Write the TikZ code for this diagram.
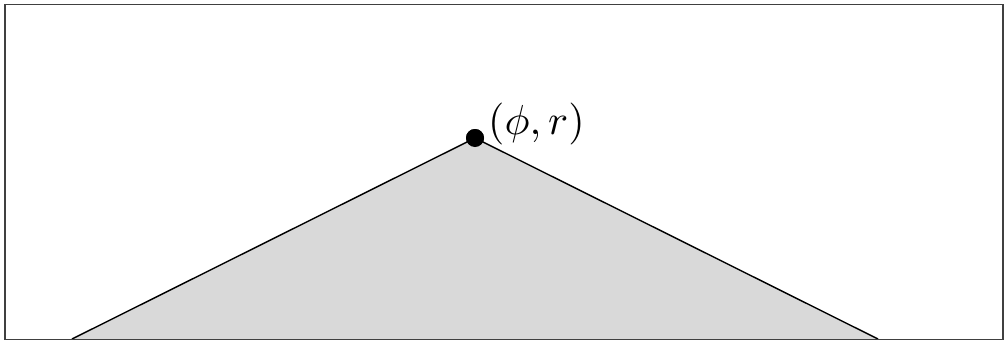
\documentclass[tikz,border=0pt]{standalone}
\usepackage{graphicx}
\begin{document}
\begin{tikzpicture}[x=1pt,y=-1pt,
  frame/.style={draw=black!75,line width=1.4pt},
  region/.style={fill=black!15,draw=black,line width=1.4pt},
  dot/.style={circle,fill=black,inner sep=0pt,minimum size=18pt},
  lbl/.style={inner sep=0pt,anchor=base west}]
\useasboundingbox (0,0) rectangle (1005,341);
\coordinate (bl) at (72,339);
\coordinate (br) at (878,339);
\node[dot] (p) at (475,138) {};
\draw[region] (bl) -- (p.center) -- (br);
\node[dot] at (475,138) {};
\node[lbl] (l) at (488,134) {\scalebox{4.2}{$(\phi,r)$}};
\draw[frame] (5,4.5) rectangle (1003,339.5);
\end{tikzpicture}
\end{document}
